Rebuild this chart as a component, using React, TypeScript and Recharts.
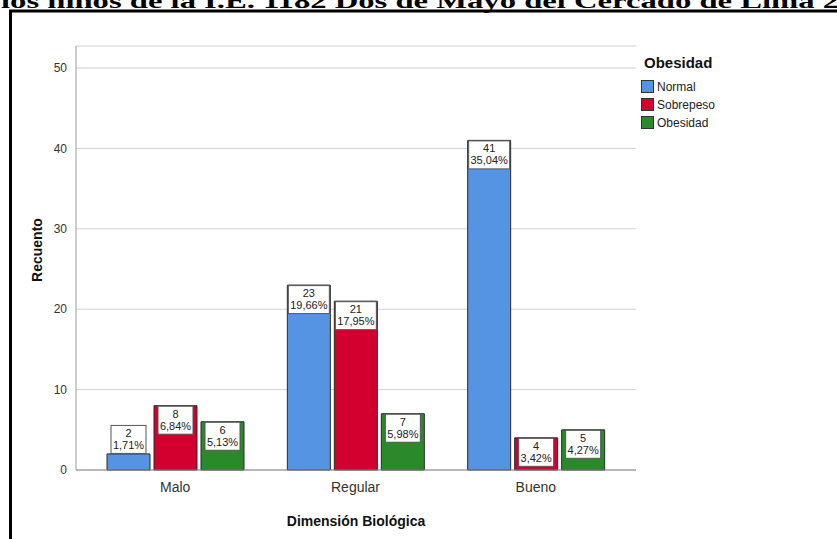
import React from "react";
import { BarChart, Bar, XAxis, YAxis, CartesianGrid, Legend, LabelList } from "recharts";

const categories = ["Malo", "Regular", "Bueno"];
const normal = [2, 23, 41];
const sobrepeso = [8, 21, 4];
const obesidad = [6, 7, 5];
const normalPct = ["1,71%", "19,66%", "35,04%"];
const sobrepesoPct = ["6,84%", "17,95%", "3,42%"];
const obesidadPct = ["5,13%", "5,98%", "4,27%"];
const yTicks = [0, 10, 20, 30, 40, 50];

const SERIES = [
  { key: "normal", name: "Normal", color: "#5594E3", pct: normalPct },
  { key: "sobrepeso", name: "Sobrepeso", color: "#D3002F", pct: sobrepesoPct },
  { key: "obesidad", name: "Obesidad", color: "#2A8A2A", pct: obesidadPct },
];

const FONT = "'Liberation Sans', Arial, sans-serif";

const data = categories.map((c, i) => ({
  cat: c,
  normal: normal[i],
  sobrepeso: sobrepeso[i],
  obesidad: obesidad[i],
}));

// rough Arial widths at 11px
function textWidth(s: string) {
  let w = 0;
  for (const ch of s) {
    if (ch === ",") w += 3.06;
    else if (ch === "%") w += 9.78;
    else w += 6.12;
  }
  return w;
}

function makeLabel(pcts: string[]) {
  return (props: any) => {
    const { x, y, width, height, value, index } = props;
    const pct = pcts[index];
    const w = Math.round(textWidth(pct)) + 5;
    const h = 29;
    const cx = x + width / 2;
    const top = height >= h ? y : y - h;
    return (
      <g>
        <rect x={cx - w / 2 + 0.5} y={top + 0.5} width={w - 1} height={h - 1} fill="#fff" stroke="#555" strokeWidth={1} />
        <text x={cx} y={top + 12} textAnchor="middle" fontFamily={FONT} fontSize={11} fill="#222">
          {value}
        </text>
        <text x={cx} y={top + 24} textAnchor="middle" fontFamily={FONT} fontSize={11} fill="#222">
          {pct}
        </text>
      </g>
    );
  };
}

function renderLegend() {
  return (
    <svg width={180} height={90} style={{ display: "block" }}>
      <text x={3} y={18} fontFamily={FONT} fontWeight="bold" fontSize={15} fill="#111">
        Obesidad
      </text>
      {SERIES.map((s, i) => (
        <g key={s.key}>
          <rect x={0.5} y={30.5 + i * 18} width={12} height={12} fill={s.color} stroke="#333" />
          <text x={16} y={41 + i * 18} fontFamily={FONT} fontSize={12} fill="#222">
            {s.name}
          </text>
        </g>
      ))}
    </svg>
  );
}

export default function App() {
  return (
    <div style={{ position: "absolute", left: 0, top: 0, width: 837, height: 539, background: "#fff", overflow: "hidden" }}>
      <BarChart
        width={837}
        height={539}
        data={data}
        margin={{ top: 46, right: 201, bottom: 39, left: 8 }}
        barSize={43}
        barGap={4}
      >
        <CartesianGrid horizontal vertical={false} stroke="#d2d2d2" />
        <XAxis
          dataKey="cat"
          height={30}
          padding={{ left: 9, right: 10 }}
          tickLine={false}
          tickSize={0}
          tickMargin={12}
          axisLine={{ stroke: "#888" }}
          tick={{ fill: "#333", fontSize: 14, fontFamily: FONT }}
        />
        <YAxis
          type="number"
          width={68}
          domain={[0, 52.74]}
          ticks={yTicks}
          tickLine={false}
          tickSize={0}
          tickMargin={9}
          axisLine={{ stroke: "#999" }}
          tick={{ fill: "#333", fontSize: 12, fontFamily: FONT }}
        />
        <Legend
          layout="vertical"
          align="center"
          verticalAlign="middle"
          content={renderLegend}
          wrapperStyle={{ left: 641, top: 50, width: 180, height: 90 }}
        />
        {SERIES.map((s) => (
          <Bar key={s.key} dataKey={s.key} name={s.name} fill={s.color} stroke="#2a2a2a" strokeWidth={1} isAnimationActive={false}>
            <LabelList dataKey={s.key} content={makeLabel(s.pct)} />
          </Bar>
        ))}
      </BarChart>
      <svg
        width={837}
        height={539}
        style={{ position: "absolute", left: 0, top: 0, pointerEvents: "none" }}
      >
        <text
          x={1}
          y={8}
          fontFamily="'Liberation Serif', 'Times New Roman', serif"
          fontWeight="bold"
          fontSize={22}
          textLength={838}
          lengthAdjust="spacingAndGlyphs"
          fill="#000"
        >
          los niños de la I.E. 1182 Dos de Mayo del Cercado de Lima 2
        </text>
        <rect x={10.5} y={11} width={900} height={700} fill="none" stroke="#000" strokeWidth={3} />
        <text
          x={37}
          y={250}
          transform="rotate(-90 37 250)"
          textAnchor="middle"
          dominantBaseline="central"
          fontFamily={FONT}
          fontWeight="bold"
          fontSize={14}
          fill="#111"
        >
          Recuento
        </text>
        <text x={356} y={521} textAnchor="middle" dominantBaseline="central" fontFamily={FONT} fontWeight="bold" fontSize={14} fill="#111">
          Dimensión Biológica
        </text>
      </svg>
    </div>
  );
}
